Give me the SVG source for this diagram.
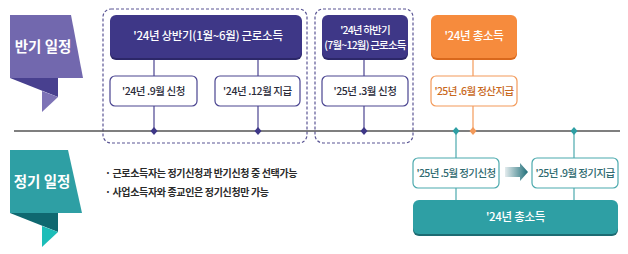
<svg xmlns="http://www.w3.org/2000/svg" width="628" height="254" viewBox="0 0 628 254">
<defs>
<linearGradient id="arrGrad" x1="0" y1="0" x2="1" y2="0">
<stop offset="0" stop-color="#E4ECEE"/>
<stop offset="1" stop-color="#1F6E78"/>
</linearGradient>
<style>
text{font-family:"Noto Sans CJK KR","Noto Sans",sans-serif;}
.ban{fill:#fff;font-size:14.5px;font-weight:700;text-anchor:middle;}
.dark{fill:#3E3787;}
.darkShadow{fill:#2C2768;}
.wt{fill:#fff;font-size:11.5px;font-weight:500;text-anchor:middle;letter-spacing:-0.3px;}
.wt2{fill:#fff;font-size:10.5px;font-weight:500;text-anchor:middle;letter-spacing:-0.8px;}
.pbox{fill:#fff;stroke:#4A4490;stroke-width:1.2;}
.ptxt{fill:#2B2B3A;font-size:10.5px;font-weight:500;text-anchor:middle;letter-spacing:-0.4px;}
.obox{fill:#fff;stroke:#F39A5A;stroke-width:1.2;}
.otxt{fill:#C9691E;font-size:10.5px;font-weight:500;text-anchor:middle;letter-spacing:-0.6px;}
.tbox{fill:#fff;stroke:#4BA9AD;stroke-width:1.2;}
.ttxt{fill:#2F6A70;font-size:10.5px;font-weight:500;text-anchor:middle;letter-spacing:-0.6px;}
.dash{fill:none;stroke:#5A5594;stroke-width:1.2;stroke-dasharray:3 2;}
.pc{stroke:#4A4490;stroke-width:1.2;}
.oc{stroke:#F39A5A;stroke-width:1.2;}
.tc{stroke:#4BA9AD;stroke-width:1.2;}
.bul{fill:#2A2A2A;font-size:10px;font-weight:700;letter-spacing:-0.35px;}
</style>
</defs>

<g id="banner-half">
<polygon points="10,15 71,15 83,78 10,78" fill="#7268AE"/>
<polygon points="10,78 58,78 58,97" fill="#48408F"/>
<polygon points="42,91 58,97 42,112" fill="#7D73B6"/>
<text class="ban" x="43" y="52">반기 일정</text>
</g>

<g id="banner-regular">
<polygon points="10,150 68,150 82,213 10,213" fill="#2E9FA4"/>
<polygon points="10,213 58,213 58,232" fill="#0F6870"/>
<polygon points="42,226 58,232 42,247" fill="#1CBDB8"/>
<text class="ban" x="42" y="187">정기 일정</text>
</g>

<g id="group-h1">
<rect class="dash" x="103" y="9" width="204" height="134" rx="8"/>
</g>
<g id="group-h2">
<rect class="dash" x="315" y="9" width="98" height="134" rx="8"/>
</g>

<g id="connectors">
<line x1="14" y1="131" x2="620" y2="131" stroke="#555" stroke-width="1.5"/>
<line class="pc" x1="154" y1="58" x2="154" y2="131"/>
<line class="pc" x1="258" y1="58" x2="258" y2="131"/>
<line class="pc" x1="364" y1="58" x2="364" y2="131"/>
<line class="oc" x1="473" y1="58" x2="473" y2="131"/>
<line class="tc" x1="456" y1="131" x2="456" y2="200"/>
<line class="tc" x1="574" y1="131" x2="574" y2="200"/>
<polygon points="154,127 157.5,131 154,135 150.5,131" fill="#3E3787"/>
<polygon points="258,127 261.5,131 258,135 254.5,131" fill="#3E3787"/>
<polygon points="364,127 367.5,131 364,135 360.5,131" fill="#3E3787"/>
<polygon points="473,127 476.5,131 473,135 469.5,131" fill="#F39A5A"/>
<polygon points="456,127 459.5,131 456,135 452.5,131" fill="#2E9FA4"/>
<polygon points="574,127 577.5,131 574,135 570.5,131" fill="#2E9FA4"/>
<polygon points="505,167 520,167 520,163 528,172 520,181 520,177 505,177" fill="url(#arrGrad)"/>
</g>

<g id="node-h1-income">
<rect class="darkShadow" x="110" y="17" width="192" height="43" rx="6"/>
<rect class="dark" x="110" y="15" width="192" height="43" rx="6"/>
<text class="wt" x="208" y="40">'24년 상반기(1월~6월) 근로소득</text>
</g>
<g id="node-h1-apply">
<rect class="pbox" x="110" y="76" width="87" height="30" rx="5"/>
<text class="ptxt" x="153.5" y="95">'24년 .9월 신청</text>
</g>
<g id="node-h1-pay">
<rect class="pbox" x="215" y="76" width="85" height="30" rx="5"/>
<text class="ptxt" x="257.5" y="95">'24년 .12월 지급</text>
</g>

<g id="node-h2-income">
<rect class="darkShadow" x="322" y="17" width="86" height="43" rx="6"/>
<rect class="dark" x="322" y="15" width="86" height="43" rx="6"/>
<text class="wt2" x="365" y="34">'24년 하반기</text>
<text class="wt2" x="365" y="49">(7월~12월) 근로소득</text>
</g>
<g id="node-h2-apply">
<rect class="pbox" x="322" y="76" width="86" height="30" rx="5"/>
<text class="ptxt" x="365" y="95">'25년 .3월 신청</text>
</g>

<g id="node-total-orange">
<rect x="431" y="17" width="86" height="43" rx="6" fill="#D9681C"/>
<rect x="431" y="15" width="86" height="43" rx="6" fill="#F68B3D"/>
<text class="wt" x="474" y="40">'24년 총소득</text>
</g>
<g id="node-settle">
<rect class="obox" x="431" y="76" width="86" height="30" rx="5"/>
<text class="otxt" x="474" y="95">'25년 .6월 정산지급</text>
</g>

<g id="node-reg-apply">
<rect class="tbox" x="413" y="158" width="86" height="30" rx="5"/>
<text class="ttxt" x="456" y="177">'25년 .5월 정기신청</text>
</g>
<g id="node-reg-pay">
<rect class="tbox" x="532" y="158" width="86" height="30" rx="5"/>
<text class="ttxt" x="575" y="177">'25년 .9월 정기지급</text>
</g>
<g id="node-total-teal">
<rect x="413" y="202" width="205" height="34" rx="6" fill="#1D6B72"/>
<rect x="413" y="200" width="205" height="34" rx="6" fill="#2E9FA4"/>
<text class="wt" x="515.5" y="221">'24년 총소득</text>
</g>

<g id="notes">
<text class="bul" x="105" y="177">· 근로소득자는 정기신청과 반기신청 중 선택가능</text>
<text class="bul" x="105" y="196">· 사업소득자와 종교인은 정기신청만 가능</text>
</g>
</svg>
